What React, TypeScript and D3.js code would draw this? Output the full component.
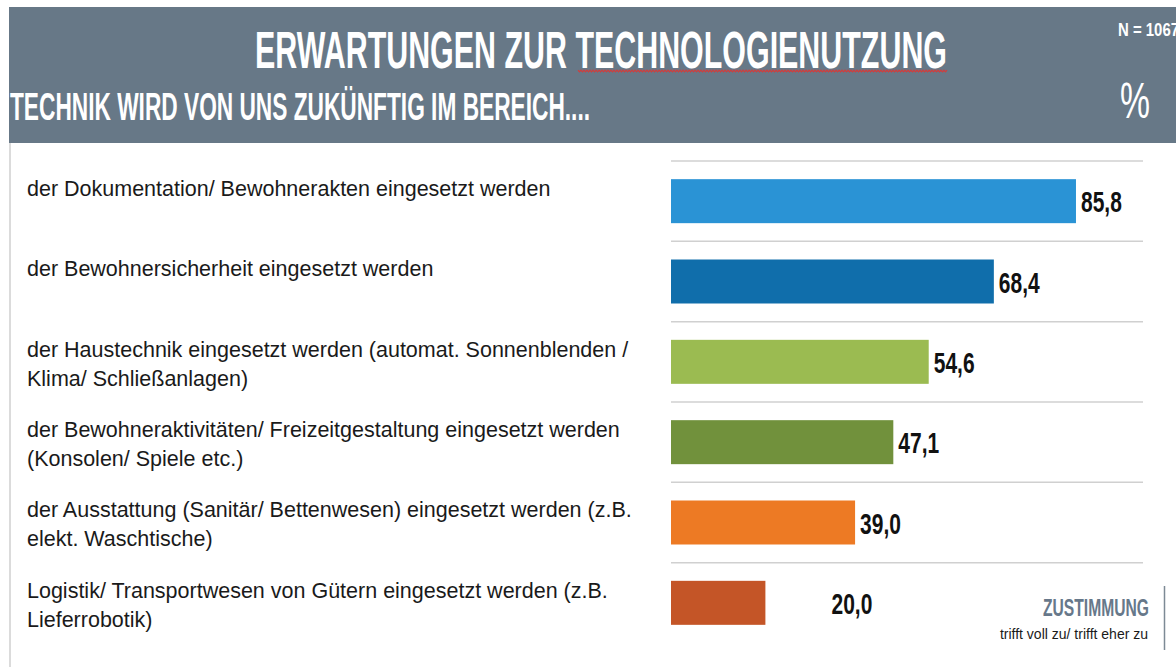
import React from "react";
import * as d3 from "d3";

const categories: string[] = [
  "der Dokumentation/ Bewohnerakten eingesetzt werden",
  "der Bewohnersicherheit eingesetzt werden",
  "der Haustechnik eingesetzt werden (automat. Sonnenblenden /\nKlima/ Schließanlagen)",
  "der Bewohneraktivitäten/ Freizeitgestaltung eingesetzt werden\n(Konsolen/ Spiele etc.)",
  "der Ausstattung (Sanitär/ Bettenwesen) eingesetzt werden (z.B.\nelekt. Waschtische)",
  "Logistik/ Transportwesen von Gütern eingesetzt werden (z.B.\nLieferrobotik)",
];
const values: number[] = [85.8, 68.4, 54.6, 47.1, 39.0, 20.0];
const colors: string[] = ["#2a93d5", "#106eab", "#9bbb51", "#71913c", "#ed7a24", "#c45527"];

const title = "ERWARTUNGEN ZUR TECHNOLOGIENUTZUNG";
const subtitle = "TECHNIK WIRD VON UNS ZUKÜNFTIG IM BEREICH....";
const sampleText = "N = 1067";
const unitText = "%";
const legendTitle = "ZUSTIMMUNG";
const legendText = "trifft voll zu/ trifft eher zu";

const W = 1176;
const H = 667;
const HEADER = "#677887";

export default function App() {
  const x = d3.scaleLinear().domain([0, 100]).range([671, 1143]);
  const y = d3.scaleBand<number>().domain(d3.range(categories.length)).range([161, 643]).paddingInner(0);
  const bw = y.bandwidth();
  const barH = 44;
  const fmt = (v: number) => d3.format(".1f")(v).replace(".", ",");

  // red spell-check squiggle under TECHNOLOGIENUTZUNG
  const sq: [number, number][] = [];
  for (let xx = 578, k = 0; xx <= 948; xx += 1.5, k++) sq.push([xx, 71 + (k % 2 === 0 ? -0.8 : 0.8)]);
  const sqPath = d3.line()(sq) || "";

  const labelFont = "'Liberation Sans', Arial, sans-serif";

  return (
    <svg
      width={W}
      height={H}
      style={{ position: "absolute", left: 0, top: 0, background: "#fff" }}
    >
      <rect x={0} y={0} width={W} height={H} fill="#fff" />
      {/* header */}
      <rect x={9} y={7} width={W - 9} height={136} fill={HEADER} />
      <text
        x={255}
        y={68}
        fill="#fff"
        fontFamily={labelFont}
        fontWeight="bold"
        fontSize={51}
        textLength={692}
        lengthAdjust="spacingAndGlyphs"
      >
        {title}
      </text>
      <path d={sqPath} fill="none" stroke="#d23c3c" strokeWidth={1.2} />
      <text
        x={10}
        y={120}
        fill="#fff"
        fontFamily={labelFont}
        fontWeight="bold"
        fontSize={39}
        textLength={580}
        lengthAdjust="spacingAndGlyphs"
      >
        {subtitle}
      </text>
      <text
        x={1118}
        y={36}
        fill="#fff"
        fontFamily={labelFont}
        fontWeight="bold"
        fontSize={18}
        textLength={61}
        lengthAdjust="spacingAndGlyphs"
      >
        {sampleText}
      </text>
      <text
        x={1120}
        y={118}
        fill="#fff"
        fontFamily={labelFont}
        fontSize={50}
        textLength={30}
        lengthAdjust="spacingAndGlyphs"
      >
        {unitText}
      </text>

      {/* left border */}
      <line x1={10} x2={10} y1={143} y2={H} stroke="#cfcfcf" strokeWidth={1.5} />

      {/* rows */}
      {categories.map((c, i) => {
        const top = y(i) as number;
        const lines = c.split("\n");
        const barY = top + (bw - barH) / 2;
        const v = values[i];
        const lx = Math.max(x(v) + 5, x(34));
        return (
          <g key={i}>
            <line x1={x(0)} x2={x(100)} y1={top} y2={top} stroke="#d0d0d0" strokeWidth={1.5} />
            <text fontFamily={labelFont} fontSize={21.5} fill="#1a1a1a">
              {lines.map((l, j) => (
                <tspan key={j} x={27} y={top + 35 + j * 29}>
                  {l}
                </tspan>
              ))}
            </text>
            <rect x={x(0)} y={barY} width={x(v) - x(0)} height={barH} fill={colors[i]} />
            <g transform={`translate(${lx},${barY + barH / 2 + 11}) scale(0.7,1)`}>
              <text x={0} y={0} fontFamily={labelFont} fontWeight="bold" fontSize={30} fill="#111">
                {fmt(v)}
              </text>
            </g>
          </g>
        );
      })}

      {/* legend box */}
      <text
        x={1149}
        y={616}
        textAnchor="end"
        fill="#67788a"
        fontFamily={labelFont}
        fontWeight="bold"
        fontSize={23}
        textLength={106}
        lengthAdjust="spacingAndGlyphs"
      >
        {legendTitle}
      </text>
      <text x={1148} y={639} textAnchor="end" fill="#1a1a1a" fontFamily={labelFont} fontSize={14}>
        {legendText}
      </text>
      <line x1={1164.5} x2={1164.5} y1={586} y2={650} stroke="#7d8a95" strokeWidth={1.5} />
    </svg>
  );
}
